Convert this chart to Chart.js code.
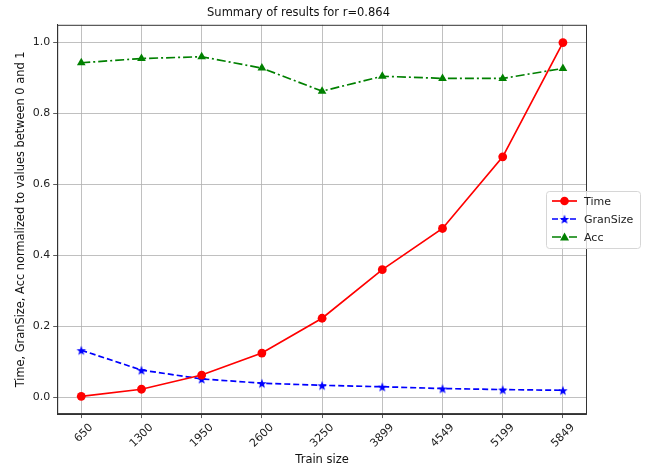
<!DOCTYPE html>
<html>
<head>
<meta charset="utf-8">
<script src="https://cdn.jsdelivr.net/npm/chart.js@4"></script>
<style>
  html, body { margin: 0; padding: 0; background: #fff; }
  #wrap { width: 652px; height: 473px; }
</style>
</head>
<body>
<div id="wrap"><canvas id="grafica"></canvas></div>
<script>
// tamaños de entrenamiento (eje x)
const trainSizes = ["650", "1300", "1950", "2600", "3250", "3899", "4549", "5199", "5849"];
// valores normalizados entre 0 y 1
const timeVals = [0.003, 0.023, 0.063, 0.125, 0.223, 0.360, 0.476, 0.678, 1.0];
const granVals = [0.133, 0.077, 0.052, 0.040, 0.034, 0.030, 0.025, 0.022, 0.020];
const accVals = [0.943, 0.955, 0.960, 0.928, 0.863, 0.905, 0.899, 0.899, 0.927];
const yTicks = [0.0, 0.2, 0.4, 0.6, 0.8, 1.0];

const FONT = "'DejaVu Sans', sans-serif";

// estrella rellena para GranSize (el 'star' de Chart.js es de lineas)
function makeStar(r, color) {
  const c = document.createElement("canvas");
  const s = Math.ceil(r * 2 + 2);
  c.width = s; c.height = s;
  const g = c.getContext("2d");
  g.fillStyle = color;
  g.beginPath();
  for (let i = 0; i < 10; i++) {
    const rad = i % 2 === 0 ? r : r * 0.42;
    const a = -Math.PI / 2 + i * Math.PI / 5;
    const x = s / 2 + rad * Math.cos(a);
    const y = s / 2 + 0.6 + rad * Math.sin(a);
    if (i === 0) g.moveTo(x, y); else g.lineTo(x, y);
  }
  g.closePath();
  g.fill();
  return c;
}
const starImg = makeStar(5, "blue");

const toPts = (arr) => arr.map((v, i) => ({ x: i, y: v }));

// marco completo alrededor del area de la grafica
const frame = {
  id: "frame",
  afterDatasetsDraw(chart) {
    const { ctx, chartArea: a } = chart;
    ctx.save();
    ctx.strokeStyle = "#333";
    ctx.lineWidth = 1;
    ctx.strokeRect(a.left + 0.5, a.top + 0.5, a.right - a.left - 1, a.bottom - a.top - 1);
    ctx.restore();
  }
};

// leyenda al estilo matplotlib, a la derecha
const legendBox = {
  id: "legendBox",
  afterDraw(chart) {
    const ctx = chart.ctx;
    const x0 = 546, y0 = 191, w = 94, h = 57;
    ctx.save();
    ctx.fillStyle = "rgba(255,255,255,0.8)";
    ctx.strokeStyle = "#d6d6d6";
    ctx.lineWidth = 1;
    ctx.beginPath();
    ctx.roundRect(x0 + 0.5, y0 + 0.5, w, h, 3);
    ctx.fill();
    ctx.stroke();
    ctx.font = "11px " + FONT;
    ctx.textBaseline = "middle";
    chart.data.datasets.forEach((ds, i) => {
      const yy = y0 + 10 + i * 18;
      ctx.strokeStyle = ds.borderColor;
      ctx.lineWidth = 1.7;
      ctx.setLineDash(ds.borderDash || []);
      ctx.beginPath();
      ctx.moveTo(x0 + 6, yy);
      ctx.lineTo(x0 + 31, yy);
      ctx.stroke();
      ctx.setLineDash([]);
      const mx = x0 + 18.5;
      ctx.fillStyle = ds.borderColor;
      if (ds.label === "Time") {
        ctx.beginPath();
        ctx.arc(mx, yy, 4.3, 0, Math.PI * 2);
        ctx.fill();
      } else if (ds.label === "GranSize") {
        ctx.drawImage(starImg, mx - starImg.width / 2, yy - starImg.height / 2);
      } else {
        ctx.beginPath();
        ctx.moveTo(mx, yy - 4.5);
        ctx.lineTo(mx + 4.5, yy + 3.5);
        ctx.lineTo(mx - 4.5, yy + 3.5);
        ctx.closePath();
        ctx.fill();
      }
      ctx.fillStyle = "#222";
      ctx.fillText(ds.label, x0 + 38, yy + 1);
    });
    ctx.restore();
  }
};

new Chart(document.getElementById("grafica"), {
  type: "line",
  data: {
    datasets: [
      {
        label: "Time",
        data: toPts(timeVals),
        borderColor: "red",
        backgroundColor: "red",
        borderWidth: 1.7,
        pointStyle: "circle",
        pointRadius: 4.4,
        pointBorderWidth: 0
      },
      {
        label: "GranSize",
        data: toPts(granVals),
        borderColor: "blue",
        backgroundColor: "blue",
        borderWidth: 1.7,
        borderDash: [6, 3],
        pointStyle: starImg,
        pointRadius: 5
      },
      {
        label: "Acc",
        data: toPts(accVals),
        borderColor: "green",
        backgroundColor: "green",
        borderWidth: 1.7,
        borderDash: [9, 3, 2, 3],
        pointStyle: "triangle",
        pointRadius: 5,
        pointBorderWidth: 0
      }
    ]
  },
  options: {
    responsive: true,
    maintainAspectRatio: false,
    animation: false,
    layout: { padding: { left: 10, right: 65, top: 3, bottom: 2 } },
    plugins: {
      legend: { display: false },
      tooltip: { enabled: false },
      title: {
        display: true,
        text: "Summary of results for r=0.864",
        color: "#111",
        font: { family: FONT, size: 11.5, weight: "normal" },
        padding: { top: 3, bottom: 5 }
      }
    },
    scales: {
      x: {
        type: "linear",
        min: -0.4,
        max: 8.4,
        afterBuildTicks(axis) {
          axis.ticks = trainSizes.map((_, i) => ({ value: i }));
        },
        ticks: {
          autoSkip: false,
          maxRotation: 45,
          minRotation: 45,
          labelOffset: 10,
          color: "#222",
          font: { family: FONT, size: 11 },
          callback: (v) => trainSizes[v]
        },
        grid: { color: "#b0b0b0", lineWidth: 0.8, tickColor: "#333", tickLength: 4 },
        border: { color: "#333" },
        title: {
          display: true,
          text: "Train size",
          color: "#111",
          font: { family: FONT, size: 11.5 },
          padding: { top: 0 }
        }
      },
      y: {
        min: -0.047,
        max: 1.05,
        afterBuildTicks(axis) {
          axis.ticks = yTicks.map((v) => ({ value: v }));
        },
        ticks: {
          color: "#222",
          font: { family: FONT, size: 11 },
          callback: (v) => v.toFixed(1)
        },
        grid: { color: "#b0b0b0", lineWidth: 0.8, tickColor: "#333", tickLength: 4 },
        border: { color: "#333" },
        title: {
          display: true,
          text: "Time, GranSize, Acc normalized to values between 0 and 1",
          color: "#111",
          font: { family: FONT, size: 11.4 },
          padding: { bottom: 2 }
        }
      }
    }
  },
  plugins: [frame, legendBox]
});
</script>
</body>
</html>
